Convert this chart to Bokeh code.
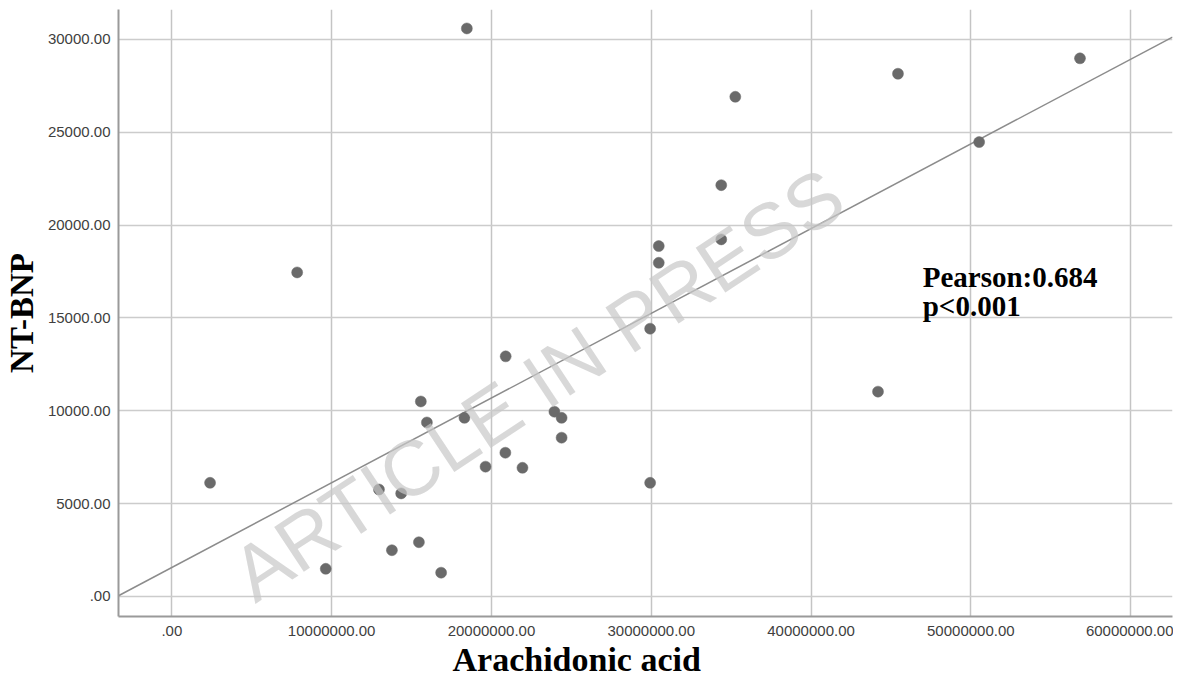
import numpy as np
from bokeh.plotting import figure
from bokeh.models import FixedTicker, CustomJSTickFormatter, Label, Range1d, Title
from bokeh.embed import file_html
from bokeh.resources import INLINE

# ---- data ----
arachidonic_acid = [2390000, 7840000, 9630000, 12960000, 13770000, 14350000,
                    15460000, 15580000, 15960000, 16850000, 18310000, 18460000,
                    19630000, 20890000, 20870000, 21940000, 23940000, 24390000,
                    24390000, 29930000, 29930000, 30470000, 30470000, 34380000,
                    34380000, 35260000, 44190000, 45440000, 50520000, 56830000]
nt_bnp = [6120, 17450, 1490, 5760, 2490, 5550,
          2920, 10500, 9370, 1280, 9620, 30590,
          6990, 12930, 7740, 6930, 9950, 9620,
          8550, 14420, 6120, 18870, 17970, 19230,
          22150, 26910, 11030, 28150, 24470, 28980]
x_ticks = [0, 10000000, 20000000, 30000000, 40000000, 50000000, 60000000]
y_ticks = [0, 5000, 10000, 15000, 20000, 25000, 30000]
x_title = "Arachidonic acid"
y_title = "NT-BNP"
stats_lines = ["Pearson:0.684", "p<0.001"]
watermark = "ARTICLE IN PRESS"

x_lo, x_hi = -3340000, 62620000
y_lo, y_hi = -1080, 31610

p = figure(width=1173, height=681, output_backend="svg", toolbar_location=None,
           x_range=Range1d(x_lo, x_hi), y_range=Range1d(y_lo, y_hi),
           min_border_left=116, min_border_right=1, min_border_top=9,
           min_border_bottom=65)
p.outline_line_color = None
p.background_fill_color = "white"
p.border_fill_color = "white"

fmt = CustomJSTickFormatter(code="return tick == 0 ? '.00' : tick.toFixed(2);")
for ax, ticks in ((p.xaxis, x_ticks), (p.yaxis, y_ticks)):
    ax.ticker = FixedTicker(ticks=ticks)
    ax.formatter = fmt
    ax.major_tick_in = 0
    ax.major_tick_out = 0
    ax.minor_tick_line_color = None
    ax.major_tick_line_color = None
    ax.axis_line_color = "#9a9a9a"
    ax.axis_line_width = 2
    ax.major_label_text_font = "Liberation Sans"
    ax.major_label_text_font_size = "15px"
    ax.major_label_text_color = "#404040"
    ax.major_label_standoff = 8
p.xaxis.major_label_standoff = 9

p.yaxis.axis_label = y_title
p.yaxis.axis_label_text_font = "Liberation Serif"
p.yaxis.axis_label_text_font_style = "bold"
p.yaxis.axis_label_text_font_size = "33px"
p.yaxis.axis_label_text_color = "black"
p.yaxis.axis_label_standoff = 5

p.xgrid.grid_line_color = "#c4c4c4"
p.xgrid.grid_line_width = 1.5
p.ygrid.grid_line_color = "#cccccc"
p.ygrid.grid_line_width = 1.5

# fit line
slope, intercept = np.polyfit(np.array(arachidonic_acid, float), np.array(nt_bnp, float), 1)
fx = np.array([x_lo, x_hi], float)
p.line(fx, slope * fx + intercept, line_color="#8c8c8c", line_width=1.5)

p.scatter(arachidonic_acid, nt_bnp, size=11, fill_color="#6a6a6a",
          line_color="#6a6a6a", line_width=0.5)

# stats text
for txt, yv in zip(stats_lines, [17230, 15620]):
    p.add_layout(Label(x=46990000, y=yv, text=txt, text_font="Liberation Serif",
                       text_font_style="bold", text_font_size="29px", text_color="black",
                       text_baseline="alphabetic"))

# watermark
p.add_layout(Label(x=22900000, y=11420, text=watermark, text_font="Liberation Sans",
                   text_font_size="78px", text_color="#c8c8c8", text_alpha=0.7,
                   text_align="center", text_baseline="middle", angle=0.585))

# x-axis title
p.add_layout(Title(text=x_title, align="left", offset=334, standoff=0,
                   text_font="Liberation Serif", text_font_style="bold",
                   text_font_size="34px", text_color="black"), "below")

open("out.html", "w").write(file_html(p, INLINE))
